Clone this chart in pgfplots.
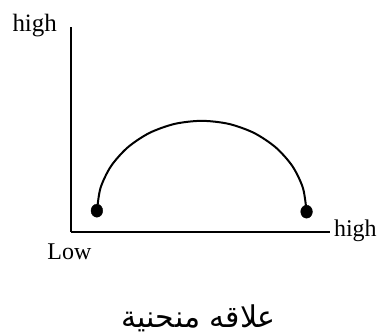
\documentclass[border=0pt]{standalone}
\usepackage{fontspec}
\setmainfont{Liberation Serif}
\newfontfamily\arabicfont[Script=Arabic]{DejaVu Sans}
\TeXXeTstate=1
\usepackage{pgfplots}
\pgfplotsset{compat=1.18}
\begin{document}
\begin{tikzpicture}
\begin{axis}[
    x=1pt, y=1pt,
    xmin=71, xmax=330, ymin=102, ymax=307,
    axis lines=left,
    axis line style={-, line width=1.8pt, black},
    xtick=\empty, ytick=\empty,
    clip=false,
]
\addplot[black, line width=2pt, smooth] coordinates {
    (97,122) (100.6,145.6) (111.1,167.5) (127.8,186.3) (149.5,200.8)
    (174.8,209.9) (202,213) (229.2,209.9) (254.5,200.8) (276.2,186.3)
    (292.9,167.5) (303.4,145.6) (307,122)
};
\addplot[only marks, mark=*, mark size=6.5pt, mark options={fill=black, xscale=0.9}]
    coordinates {(97,123) (307,122)};

\node[anchor=base west, font=\fontsize{25}{30}\selectfont] at (axis cs:9,302) {high};
\node[anchor=base west, font=\fontsize{24}{29}\selectfont] at (axis cs:331,97) {high};
\node[anchor=base west, font=\fontsize{24}{29}\selectfont] at (axis cs:44,74) {Low};
\node[anchor=center, font=\fontsize{30}{36}\selectfont] at (axis cs:199,15)
    {\arabicfont\beginR علاقه منحنية\endR};
\path (axis cs:0,0) rectangle (axis cs:380,334);
\end{axis}
\end{tikzpicture}
\end{document}
